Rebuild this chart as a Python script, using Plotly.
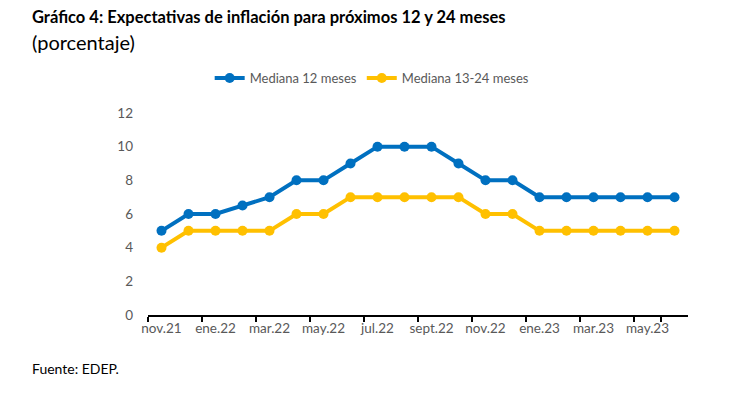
import plotly.graph_objects as go

months = ["nov.21", "dic.21", "ene.22", "feb.22", "mar.22", "abr.22", "may.22", "jun.22",
          "jul.22", "ago.22", "sept.22", "oct.22", "nov.22", "dic.22", "ene.23", "feb.23",
          "mar.23", "abr.23", "may.23", "jun.23"]
mediana_12 = [5, 6, 6, 6.5, 7, 8, 8, 9, 10, 10, 10, 9, 8, 8, 7, 7, 7, 7, 7, 7]
mediana_13_24 = [4, 5, 5, 5, 5, 6, 6, 7, 7, 7, 7, 7, 6, 6, 5, 5, 5, 5, 5, 5]
y_ticks = [0, 2, 4, 6, 8, 10, 12]

FONT = "Lato"
GRAY = "#595959"

fig = go.Figure()
fig.add_trace(go.Scatter(x=months, y=mediana_12, name="Mediana 12 meses", mode="lines+markers",
                         line=dict(color="#0070C0", width=4), marker=dict(size=10, color="#0070C0")))
fig.add_trace(go.Scatter(x=months, y=mediana_13_24, name="Mediana 13-24 meses", mode="lines+markers",
                         line=dict(color="#FFC000", width=4), marker=dict(size=10, color="#FFC000")))

fig.update_layout(
    width=754, height=396,
    margin=dict(l=140, r=74, t=105, b=89, autoexpand=False),
    plot_bgcolor="white", paper_bgcolor="white",
    font=dict(family=FONT, color=GRAY, size=13),
    showlegend=True,
    legend=dict(orientation="h", x=0.483, xref="container", xanchor="center", y=(315 - 78) / 202, yanchor="middle",
                font=dict(size=13, color=GRAY), itemwidth=30, traceorder="normal"),
    xaxis=dict(type="category", tickmode="array", tickvals=months[::2], ticktext=months[::2],
               tickson="boundaries", ticks="outside", ticklen=5, tickcolor="black", tickwidth=1.5,
               showline=True, linecolor="black", linewidth=2, showgrid=False, tickangle=0,
               automargin=False, range=[-0.5, 19.5], tickfont=dict(size=13.5, color=GRAY)),
    yaxis=dict(range=[0, 12], tickvals=y_ticks, showgrid=False, zeroline=False, showline=False,
               automargin=False, ticks="", ticklabelstandoff=14, tickfont=dict(size=13.5, color=GRAY)),
)

fig.add_annotation(text="<b>Gráfico 4: Expectativas de inflación para próximos 12 y 24 meses</b>",
                   xref="paper", yref="paper", x=(30 - 148) / 540, y=(315 - 17) / 202,
                   xanchor="left", yanchor="middle", showarrow=False,
                   font=dict(family=FONT, size=16.5, color="black"))
fig.add_annotation(text="(porcentaje)",
                   xref="paper", yref="paper", x=(30 - 148) / 540, y=(315 - 42) / 202,
                   xanchor="left", yanchor="middle", showarrow=False,
                   font=dict(family=FONT, size=20, color="black"))
fig.add_annotation(text="Fuente: EDEP.",
                   xref="paper", yref="paper", x=(30 - 148) / 540, y=(315 - 368) / 202,
                   xanchor="left", yanchor="middle", showarrow=False,
                   font=dict(family=FONT, size=14, color="black"))

fig.write_html("out.html")
